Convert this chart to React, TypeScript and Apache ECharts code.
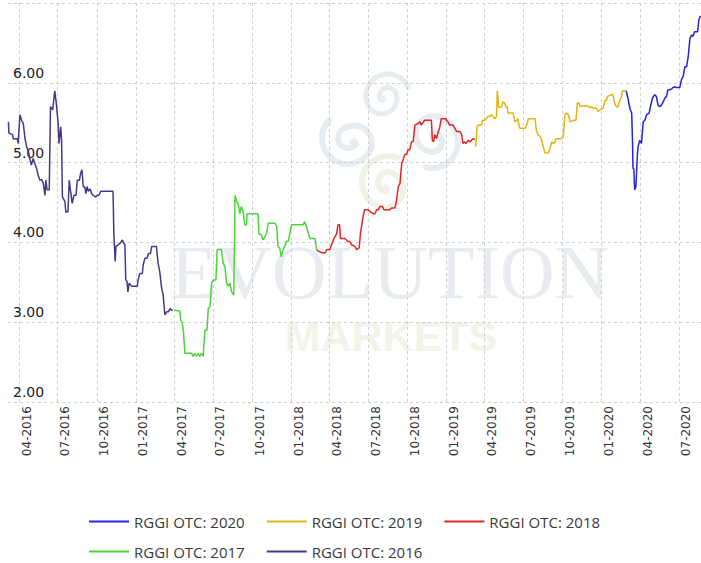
import React, { useEffect, useRef } from "react";
import * as echarts from "echarts";

const legendNames = ["RGGI OTC: 2020", "RGGI OTC: 2019", "RGGI OTC: 2018", "RGGI OTC: 2017", "RGGI OTC: 2016"];
const tickDates = [
  "2016-04-01", "2016-07-01", "2016-10-01", "2017-01-01", "2017-04-01", "2017-07-01",
  "2017-10-01", "2018-01-01", "2018-04-01", "2018-07-01", "2018-10-01", "2019-01-01",
  "2019-04-01", "2019-07-01", "2019-10-01", "2020-01-01", "2020-04-01", "2020-07-01",
];
const yTicks = [2, 3, 4, 5, 6, 7];

const s2016: [string, number][] = [
  ["2016-03-07", 5.51], ["2016-03-08", 5.37], ["2016-03-17", 5.35], ["2016-03-18", 5.3],
  ["2016-03-28", 5.3], ["2016-03-30", 5.24], ["2016-04-03", 5.6], ["2016-04-07", 5.53],
  ["2016-04-11", 5.49], ["2016-04-15", 5.3], ["2016-04-19", 5.2], ["2016-04-23", 5.14],
  ["2016-04-27", 5.03], ["2016-04-30", 4.97], ["2016-05-04", 5.05], ["2016-05-08", 4.99],
  ["2016-05-12", 4.93], ["2016-05-16", 4.84], ["2016-05-20", 4.78], ["2016-05-24", 4.79],
  ["2016-05-28", 4.74], ["2016-06-01", 4.59], ["2016-06-03", 4.78], ["2016-06-06", 4.66],
  ["2016-06-11", 4.66], ["2016-06-14", 5.7], ["2016-06-19", 5.66], ["2016-06-24", 5.9],
  ["2016-06-28", 5.72], ["2016-07-02", 5.49], ["2016-07-04", 5.24], ["2016-07-08", 5.45],
  ["2016-07-10", 5.28], ["2016-07-12", 4.57], ["2016-07-18", 4.51], ["2016-07-20", 4.38],
  ["2016-07-25", 4.38], ["2016-07-28", 4.78], ["2016-08-01", 4.61], ["2016-08-04", 4.49],
  ["2016-08-08", 4.59], ["2016-08-13", 4.59], ["2016-08-16", 4.78], ["2016-08-21", 4.78],
  ["2016-08-24", 4.87], ["2016-08-27", 4.91], ["2016-08-30", 4.7], ["2016-09-03", 4.69],
  ["2016-09-05", 4.61], ["2016-09-08", 4.7], ["2016-09-11", 4.64], ["2016-09-15", 4.67],
  ["2016-09-19", 4.61], ["2016-09-22", 4.59], ["2016-09-28", 4.57], ["2016-10-02", 4.59],
  ["2016-10-06", 4.59], ["2016-10-10", 4.64], ["2016-11-08", 4.64], ["2016-11-10", 4.11],
  ["2016-11-13", 3.76], ["2016-11-15", 3.95], ["2016-11-20", 3.97], ["2016-11-25", 3.99],
  ["2016-11-30", 4.03], ["2016-12-03", 3.99], ["2016-12-06", 3.97], ["2016-12-08", 3.53],
  ["2016-12-11", 3.51], ["2016-12-13", 3.38], ["2016-12-16", 3.49], ["2016-12-22", 3.45],
  ["2017-01-04", 3.45], ["2017-01-06", 3.53], ["2017-01-10", 3.61], ["2017-01-16", 3.61],
  ["2017-01-18", 3.72], ["2017-01-22", 3.8], ["2017-01-27", 3.8], ["2017-01-30", 3.86],
  ["2017-02-04", 3.86], ["2017-02-07", 3.95], ["2017-02-18", 3.95], ["2017-02-22", 3.74],
  ["2017-02-26", 3.63], ["2017-03-02", 3.44], ["2017-03-06", 3.34], ["2017-03-10", 3.09],
  ["2017-03-14", 3.13], ["2017-03-18", 3.13], ["2017-03-22", 3.17], ["2017-03-26", 3.15],
  ["2017-03-29", 3.15],
];

const s2017: [string, number][] = [
  ["2017-04-01", 3.15], ["2017-04-14", 3.14], ["2017-04-16", 3.03], ["2017-04-20", 2.99],
  ["2017-04-23", 2.86], ["2017-04-26", 2.61], ["2017-05-12", 2.61], ["2017-05-15", 2.57],
  ["2017-05-19", 2.61], ["2017-05-23", 2.57], ["2017-05-27", 2.61], ["2017-05-31", 2.57],
  ["2017-06-04", 2.61], ["2017-06-08", 2.57], ["2017-06-12", 2.9], ["2017-06-17", 2.9],
  ["2017-06-20", 3.17], ["2017-06-24", 3.19], ["2017-06-28", 3.49], ["2017-07-02", 3.53],
  ["2017-07-08", 3.53], ["2017-07-11", 3.91], ["2017-07-21", 3.91], ["2017-07-25", 3.74],
  ["2017-07-29", 3.7], ["2017-08-02", 3.49], ["2017-08-06", 3.45], ["2017-08-10", 3.49],
  ["2017-08-14", 3.38], ["2017-08-19", 3.34], ["2017-08-22", 4.59], ["2017-08-26", 4.51],
  ["2017-08-30", 4.47], ["2017-09-02", 4.36], ["2017-09-06", 4.45], ["2017-09-10", 4.39],
  ["2017-09-14", 4.22], ["2017-09-18", 4.22], ["2017-09-19", 4.36], ["2017-10-15", 4.36],
  ["2017-10-17", 4.11], ["2017-10-23", 4.09], ["2017-10-27", 4.03], ["2017-10-31", 4.07],
  ["2017-11-04", 4.11], ["2017-11-08", 4.24], ["2017-11-24", 4.24], ["2017-11-28", 4.2],
  ["2017-12-01", 3.95], ["2017-12-05", 3.93], ["2017-12-09", 3.82], ["2017-12-13", 3.91],
  ["2017-12-17", 3.95], ["2017-12-21", 4.01], ["2017-12-25", 4.01], ["2018-01-02", 4.22],
  ["2018-01-29", 4.22], ["2018-02-02", 4.26], ["2018-02-06", 4.2], ["2018-02-14", 4.05],
  ["2018-02-26", 4.05], ["2018-03-02", 3.91],
];

const s2018: [string, number][] = [
  ["2018-03-02", 3.91], ["2018-03-06", 3.89], ["2018-03-14", 3.87], ["2018-03-22", 3.87],
  ["2018-03-26", 3.91], ["2018-04-02", 3.91], ["2018-04-06", 3.97], ["2018-04-10", 4.03],
  ["2018-04-14", 4.07], ["2018-04-18", 4.11], ["2018-04-21", 4.22], ["2018-04-25", 4.22],
  ["2018-04-27", 4.05], ["2018-05-07", 4.05], ["2018-05-11", 4.03], ["2018-05-15", 4.01],
  ["2018-05-19", 4.01], ["2018-05-23", 3.97], ["2018-05-31", 3.95], ["2018-06-04", 3.91],
  ["2018-06-10", 3.93], ["2018-06-13", 4.11], ["2018-06-19", 4.32], ["2018-06-23", 4.41],
  ["2018-07-01", 4.41], ["2018-07-05", 4.39], ["2018-07-13", 4.36], ["2018-07-17", 4.36],
  ["2018-07-21", 4.41], ["2018-07-25", 4.41], ["2018-07-29", 4.45], ["2018-08-04", 4.45],
  ["2018-08-07", 4.41], ["2018-08-21", 4.41], ["2018-08-25", 4.43], ["2018-09-02", 4.43],
  ["2018-09-06", 4.53], ["2018-09-10", 4.7], ["2018-09-14", 4.74], ["2018-09-18", 4.99],
  ["2018-09-21", 5.03], ["2018-09-25", 5.1], ["2018-09-29", 5.1], ["2018-10-03", 5.16],
  ["2018-10-07", 5.16], ["2018-10-11", 5.26], ["2018-10-15", 5.26], ["2018-10-19", 5.47],
  ["2018-10-27", 5.49], ["2018-10-31", 5.51], ["2018-11-03", 5.47], ["2018-11-11", 5.53],
  ["2018-11-27", 5.53], ["2018-11-29", 5.28], ["2018-12-02", 5.26], ["2018-12-05", 5.35],
  ["2018-12-09", 5.3], ["2018-12-12", 5.37], ["2018-12-16", 5.43], ["2018-12-20", 5.55],
  ["2018-12-31", 5.55], ["2019-01-01", 5.53], ["2019-01-05", 5.51], ["2019-01-09", 5.47],
  ["2019-01-17", 5.47], ["2019-01-21", 5.43], ["2019-01-25", 5.39], ["2019-02-02", 5.39],
  ["2019-02-06", 5.35], ["2019-02-09", 5.24], ["2019-02-13", 5.26], ["2019-02-17", 5.24],
  ["2019-02-21", 5.28], ["2019-02-25", 5.26], ["2019-03-05", 5.3], ["2019-03-09", 5.29],
];

const s2019: [string, number][] = [
  ["2019-03-11", 5.2], ["2019-03-13", 5.32], ["2019-03-14", 5.45], ["2019-03-17", 5.47],
  ["2019-03-25", 5.47], ["2019-03-27", 5.53], ["2019-04-01", 5.53], ["2019-04-05", 5.55],
  ["2019-04-09", 5.58], ["2019-04-15", 5.58], ["2019-04-17", 5.6], ["2019-04-21", 5.58],
  ["2019-04-25", 5.55], ["2019-04-29", 5.58], ["2019-05-01", 5.9], ["2019-05-04", 5.7],
  ["2019-05-07", 5.69], ["2019-05-11", 5.7], ["2019-05-14", 5.76], ["2019-05-18", 5.75],
  ["2019-05-21", 5.7], ["2019-05-24", 5.7], ["2019-05-26", 5.62], ["2019-06-07", 5.62],
  ["2019-06-11", 5.51], ["2019-06-15", 5.53], ["2019-06-18", 5.55], ["2019-06-20", 5.49],
  ["2019-06-23", 5.43], ["2019-07-05", 5.43], ["2019-07-09", 5.47], ["2019-07-13", 5.55],
  ["2019-07-29", 5.55], ["2019-07-31", 5.43], ["2019-08-04", 5.35], ["2019-08-10", 5.33],
  ["2019-08-14", 5.26], ["2019-08-17", 5.2], ["2019-08-21", 5.12], ["2019-08-29", 5.12],
  ["2019-09-02", 5.18], ["2019-09-06", 5.26], ["2019-09-10", 5.24], ["2019-09-14", 5.26],
  ["2019-09-16", 5.3], ["2019-09-29", 5.3], ["2019-10-03", 5.32], ["2019-10-07", 5.6],
  ["2019-10-11", 5.62], ["2019-10-15", 5.6], ["2019-10-19", 5.51], ["2019-10-27", 5.53],
  ["2019-11-02", 5.53], ["2019-11-05", 5.74], ["2019-11-09", 5.75], ["2019-11-11", 5.71],
  ["2019-11-30", 5.71], ["2019-12-04", 5.69], ["2019-12-08", 5.7], ["2019-12-14", 5.68],
  ["2019-12-20", 5.68], ["2019-12-24", 5.64], ["2019-12-28", 5.66], ["2020-01-05", 5.68],
  ["2020-01-09", 5.78], ["2020-01-13", 5.78], ["2020-01-15", 5.83], ["2020-01-24", 5.85],
  ["2020-01-28", 5.85], ["2020-02-01", 5.74], ["2020-02-05", 5.7], ["2020-02-09", 5.7],
  ["2020-02-13", 5.78], ["2020-02-17", 5.82], ["2020-02-19", 5.9], ["2020-02-28", 5.9],
];

const s2020: [string, number][] = [
  ["2020-02-28", 5.9], ["2020-03-03", 5.81], ["2020-03-07", 5.7], ["2020-03-09", 5.66],
  ["2020-03-12", 5.62], ["2020-03-14", 5.24], ["2020-03-15", 4.93], ["2020-03-17", 4.92],
  ["2020-03-19", 4.66], ["2020-03-22", 4.7], ["2020-03-25", 5.07], ["2020-03-27", 5.2],
  ["2020-03-31", 5.28], ["2020-04-04", 5.24], ["2020-04-08", 5.51], ["2020-04-12", 5.53],
  ["2020-04-16", 5.6], ["2020-04-22", 5.62], ["2020-04-25", 5.7], ["2020-04-30", 5.81],
  ["2020-05-05", 5.85], ["2020-05-09", 5.83], ["2020-05-13", 5.72], ["2020-05-17", 5.7],
  ["2020-05-21", 5.72], ["2020-05-25", 5.76], ["2020-05-29", 5.81], ["2020-06-02", 5.83],
  ["2020-06-05", 5.91], ["2020-06-13", 5.92], ["2020-06-17", 5.94], ["2020-06-21", 5.95],
  ["2020-06-25", 5.94], ["2020-07-03", 5.94], ["2020-07-07", 6.04], ["2020-07-11", 6.08],
  ["2020-07-15", 6.2], ["2020-07-19", 6.2], ["2020-07-23", 6.33], ["2020-07-27", 6.56],
  ["2020-07-31", 6.6], ["2020-08-03", 6.58], ["2020-08-07", 6.64], ["2020-08-14", 6.64],
  ["2020-08-17", 6.79], ["2020-08-21", 6.84],
];

const seriesColors = ["#2424dc", "#e4b414", "#e02828", "#4cd43a", "#4a3689"];
const seriesData = [s2020, s2019, s2018, s2017, s2016];

const SPIRAL =
  "M26 0 A26 26 0 0 0 -26 0 A18 18 0 0 0 10 0 A10 10 0 0 0 -10 0 A2 2 0 0 0 -6 0";
echarts.graphic.registerShape("spiral", echarts.graphic.extendPath(SPIRAL, {}) as any);

function toTime(s: string) {
  const [y, m, d] = s.split("-").map(Number);
  return new Date(y, m - 1, d).getTime();
}

export default function App() {
  const ref = useRef<HTMLDivElement>(null);
  useEffect(() => {
    if (!ref.current) return;
    const chart = echarts.init(ref.current, undefined, { renderer: "svg" });
    const ticks = tickDates.map(toTime);
    const spiral = (x: number, y: number, rot: number, s: number, color: string) => ({
      type: "spiral",
      x,
      y,
      rotation: rot,
      scaleX: s,
      scaleY: s,
      silent: true,
      style: { fill: null, stroke: color, lineWidth: 6, lineCap: "round" },
    });
    const legendBase = {
      left: 84,
      itemWidth: 40,
      itemHeight: 2,
      itemGap: 22,
      icon: "rect",
      selectedMode: false,
      textStyle: { fontFamily: "Open Sans", fontSize: 15, color: "#3a3a3a" },
    };
    chart.setOption({
      animation: false,
      backgroundColor: "#ffffff",
      graphic: [
        {
          type: "group",
          z: -5,
          silent: true,
          children: [
            spiral(388, 96, 0.4, 0.85, "#e7ecf1"),
            spiral(348, 138, 2.4, 1.0, "#e7ecf1"),
            spiral(432, 142, -1.8, 1.0, "#e7ecf1"),
            spiral(388, 182, 1.2, 1.0, "#f0f2e8"),
            {
              type: "text",
              style: {
                text: "EVOLUTION",
                x: 390,
                y: 272,
                align: "center",
                verticalAlign: "middle",
                font: '76px "Liberation Serif"',
                fill: "#e8ecf1",
              },
            },
            {
              type: "text",
              style: {
                text: "MARKETS",
                x: 391,
                y: 336,
                align: "center",
                verticalAlign: "middle",
                font: 'bold 43px "Liberation Sans"',
                fill: "#f2f4ea",
              },
            },
          ],
        },
      ],
      grid: { left: 8, right: 0, top: 3, bottom: 161, containLabel: false },
      legend: [
        { ...legendBase, data: legendNames.slice(0, 3), top: 509 },
        { ...legendBase, data: legendNames.slice(3), top: 539 },
      ],
      xAxis: {
        type: "value",
        min: toTime("2016-03-06"),
        max: toTime("2020-08-22"),
        axisLine: { show: false },
        axisTick: { show: false, customValues: ticks },
        axisLabel: {
          customValues: ticks,
          rotate: 90,
          margin: 4,
          verticalAlign: "top",
          fontFamily: "DejaVu Sans",
          fontSize: 12,
          lineHeight: 15,
          color: "#333",
          formatter: (v: number) => {
            const d = new Date(v);
            const m = d.getMonth() + 1;
            return (m < 10 ? "0" + m : "" + m) + "-" + d.getFullYear();
          },
        },
        splitLine: { show: true, lineStyle: { color: "#cfcfcf", type: [3, 3], width: 1 } },
      },
      yAxis: {
        type: "value",
        min: yTicks[0],
        max: yTicks[yTicks.length - 1],
        interval: 1,
        axisLine: { show: false },
        axisTick: { show: false },
        axisLabel: {
          inside: true,
          showMaxLabel: false,
          margin: 5,
          align: "left",
          verticalAlign: "bottom",
          padding: [0, 0, 3, 0],
          fontFamily: "DejaVu Sans",
          fontSize: 14,
          color: "#222",
          formatter: (v: number) => v.toFixed(2),
        },
        splitLine: { show: true, lineStyle: { color: "#cfcfcf", type: [3, 3], width: 1 } },
      },
      series: seriesData.map((d, i) => ({
        name: legendNames[i],
        type: "line",
        data: d.map((p) => [toTime(p[0]), p[1]]),
        symbol: "none",
        color: seriesColors[i],
        lineStyle: { width: 1.5, color: seriesColors[i] },
        z: 3,
      })),
    });
    return () => chart.dispose();
  }, []);
  return (
    <div
      ref={ref}
      style={{ position: "fixed", left: 0, top: 0, width: 701, height: 563 }}
    />
  );
}
